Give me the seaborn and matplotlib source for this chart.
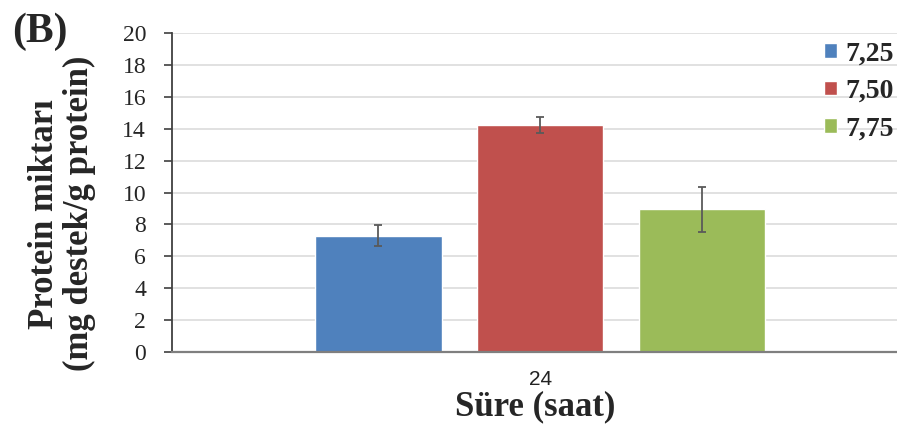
import matplotlib
matplotlib.use("Agg")
import matplotlib.pyplot as plt
import seaborn as sns
import pandas as pd

# Protein amount after 24 h at three pH levels
time_labels = ["24"]
ph_levels = ["7,25", "7,50", "7,75"]
protein_means = [7.30, 14.25, 8.95]
protein_errors = [0.66, 0.52, 1.40]
y_ticks = [0, 2, 4, 6, 8, 10, 12, 14, 16, 18, 20]

colors = ["#4F81BD", "#C0504D", "#9BBB59"]

df = pd.DataFrame({
    "time": time_labels * len(ph_levels),
    "ph": ph_levels,
    "protein": protein_means,
})

sns.set_theme(style="white")
plt.rcParams["font.family"] = ["Liberation Serif", "DejaVu Serif"]

fig = plt.figure(figsize=(8.97, 4.30), dpi=100)
ax = fig.add_axes([0.1923, 0.182, 0.8077, 0.7406])

sns.barplot(data=df, x="time", y="protein", hue="ph", hue_order=ph_levels,
            palette=colors, width=0.8, gap=0.22, errorbar=None,
            saturation=1, ax=ax, zorder=3)

# error bars centred on the drawn bars
bars = [p for p in ax.patches if p.get_height() > 0][:len(ph_levels)]
bars.sort(key=lambda p: p.get_x())
for bar, mean, err in zip(bars, protein_means, protein_errors):
    ax.errorbar(bar.get_x() + bar.get_width() / 2, mean, yerr=err,
                fmt="none", ecolor="#5a5a5a", elinewidth=1.3,
                capsize=3, capthick=1.3, zorder=4)

ax.set_ylim(0, 20)
ax.set_xlim(-0.606, 0.588)
ax.set_yticks(y_ticks)
ax.set_yticklabels([str(t) for t in y_ticks], fontsize=17)
ax.tick_params(axis="y", which="major", left=True, direction="out",
               length=6, width=1.2, color="#404040", pad=13)
ax.tick_params(axis="x", bottom=False, pad=7)
for lbl in ax.get_xticklabels():
    lbl.set_fontfamily(["Liberation Sans", "DejaVu Sans"])
    lbl.set_fontsize(15)
    lbl.set_color("#222222")

ax.yaxis.grid(True, color="#d9d9d9", linewidth=1.1, zorder=0)
ax.set_axisbelow(True)
for side in ["top", "right"]:
    ax.spines[side].set_visible(False)
ax.spines["left"].set_color("#404040")
ax.spines["left"].set_linewidth(1.3)
ax.spines["bottom"].set_color("#7f7f7f")
ax.spines["bottom"].set_linewidth(1.6)
ax.spines["bottom"].set_zorder(5)

ax.set_xlabel("Süre (saat)", fontsize=25, fontweight="bold", labelpad=1)
ax.set_ylabel("")

fig.text(0.069, 0.503, "Protein miktarı\n(mg destek/g protein)",
         rotation=90, ha="center", va="center", fontsize=25,
         fontweight="bold", linespacing=1.05, multialignment="center")
fig.text(0.013, 0.972, "(B)", ha="left", va="top", fontsize=30,
         fontweight="bold")

leg = ax.legend(loc="upper right", bbox_to_anchor=(1.03, 1.053),
                frameon=False, handlelength=0.45, handleheight=0.45,
                handletextpad=0.3, labelspacing=0.45,
                prop={"family": "Liberation Serif", "weight": "bold",
                      "size": 20})

fig.savefig("out.png", dpi=100)
